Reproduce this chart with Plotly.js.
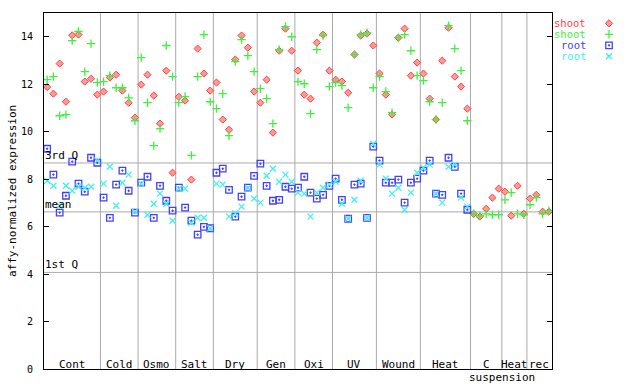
<!DOCTYPE html>
<html><head><meta charset="utf-8">
<script src="https://cdn.plot.ly/plotly-3.0.1.min.js"></script>
<style>html,body{margin:0;padding:0;background:#fff}#chart{width:640px;height:384px}</style>
</head><body><div id="chart"></div>
<script>
const groupLabels = ['Cont','Cold','Osmo','Salt','Dry','Gen','Oxi','UV','Wound','Heat','C','Heat','rec'];
const groupSizes = [9,6,6,6,7,6,6,7,7,8,5,4,4];
const subLabel = 'suspension';
const seriesNames = ['shoot','shoot','root','root'];

const shoot1 = [11.88,11.60,12.87,11.26,14.06,14.09,12.11,12.23,11.56,
  11.69,12.28,12.40,11.73,11.22,10.59,
  11.98,12.40,11.52,10.34,12.57,8.27,
  11.47,11.31,7.98,13.50,12.45,11.73,
  12.07,10.51,10.08,13.04,14.05,13.54,11.69,
  11.22,12.19,9.96,13.41,14.34,13.41,
  12.57,11.56,11.39,13.75,14.09,12.57,
  12.19,12.11,11.64,13.25,14.05,14.13,13.63,
  12.45,11.56,10.72,13.96,14.34,12.36,12.91,
  12.45,11.39,10.51,12.99,14.38,12.32,11.90,10.97,
  6.54,6.42,6.75,7.22,7.60,
  7.47,6.46,7.72,6.54,
  7.18,7.34,6.63,6.63];
const shoot2 = [12.19,12.32,10.67,10.72,13.84,14.22,12.53,13.71,12.07,
  12.11,12.36,11.85,11.85,11.42,10.46,
  13.12,11.22,9.41,10.13,13.63,12.32,
  11.22,11.48,9.00,12.32,14.09,11.26,
  10.97,11.60,9.83,12.95,13.88,13.20,12.53,
  11.81,11.39,10.34,13.46,14.43,14.00,
  12.11,12.02,10.76,13.46,14.05,11.90,
  12.07,11.94,11.01,13.25,14.09,14.17,11.85,
  12.32,11.69,10.80,13.96,14.09,13.41,12.36,
  12.15,11.26,10.51,11.22,14.47,13.50,12.57,10.46,
  6.54,6.46,6.54,6.50,6.50,
  7.13,7.43,6.54,6.50,
  6.92,7.22,6.54,6.67];
const root1 = [9.28,8.19,6.59,7.30,8.74,7.81,7.47,8.90,8.69,
  7.22,6.37,7.77,8.36,7.51,6.59,
  7.85,8.10,6.37,7.72,7.09,6.67,
  7.64,6.80,6.25,5.66,5.99,5.93,
  8.27,8.44,7.55,6.42,7.26,7.64,8.14,
  8.65,7.72,7.09,7.13,7.68,7.60,
  7.64,8.10,7.43,7.18,7.34,7.72,
  8.02,7.13,6.33,7.77,7.81,6.37,9.37,
  8.78,7.85,7.85,7.98,7.01,7.85,8.02,
  8.36,8.78,7.39,7.34,8.90,8.52,7.39,6.71];
const root2 = [7.93,7.72,6.88,7.72,7.51,7.68,7.64,7.68,8.78,
  7.81,8.52,6.88,7.85,8.19,6.63,
  7.81,6.50,6.96,7.39,6.96,6.25,
  7.60,7.60,6.16,6.37,6.37,5.93,
  7.81,7.77,6.42,6.56,6.84,7.64,7.18,
  7.01,8.14,8.44,7.89,8.19,7.89,
  7.43,7.39,6.42,7.43,7.64,7.77,
  7.89,6.96,6.33,7.13,7.93,6.37,9.49,
  8.61,8.02,7.39,7.64,6.71,7.43,8.27,
  8.48,8.61,7.39,7.01,8.52,8.61,7.22,6.84];
const refNames = ['3rd Q','mean','1st Q'];
const refValues = [8.68,6.62,4.07];
const yTicks = [0,2,4,6,8,10,12,14];

const W = 640, H = 384;
const mL = 44, mR = 20, mT = 13, mB = 15;
const pw = W - mL - mR, ph = H - mT - mB;
const plotRight = 552;
const mainDom = (plotRight - mL) / pw;
const px = v => (v - mL) / pw;
const py = v => (H - mB - v) / ph;

const FONT = 'DejaVu Sans Mono, Liberation Mono, monospace';
const colors = ['#ff4040','#40f040','#4040ff','#40f0f0'];
const N = groupSizes.reduce((a,b)=>a+b,0);
const idx = n => Array.from({length:n},(_,i)=>i);
const series = [shoot1, shoot2, root1, root2];
const markers = [
  {symbol:'diamond', size:5.5, color:'#ff9a9a', line:{color:colors[0], width:1}},
  {symbol:'cross-thin-open', size:6, color:colors[1], line:{color:colors[1], width:1.3}},
  {symbol:'square-open-dot', size:6.5, color:colors[2], line:{color:colors[2], width:1.3}},
  {symbol:'x-thin-open', size:6, color:colors[3], line:{color:colors[3], width:1.3}}
];

const traces = [];
series.forEach((s,k)=>{
  traces.push({type:'scatter', mode:'markers', x: idx(s.length), y: s,
    name: seriesNames[k], marker: markers[k], xaxis:'x', yaxis:'y', hoverinfo:'skip'});
});
// legend keys
series.forEach((s,k)=>{
  traces.push({type:'scatter', mode:'markers', x:[0], y:[k], marker: markers[k],
    xaxis:'x2', yaxis:'y2', hoverinfo:'skip'});
});

const shapes = [];
let cum = 0;
const starts = [];
groupSizes.forEach((n,g)=>{ starts.push(cum); cum += n;
  if (g < groupSizes.length-1) shapes.push({type:'line', xref:'x', yref:'paper', x0:cum-0.5, x1:cum-0.5, y0:0, y1:1, line:{color:'#aaaaaa', width:1}, layer:'below'});
});
refValues.forEach(v=>shapes.push({type:'line', xref:'x', yref:'y', x0:-0.5, x1:N-0.5, y0:v, y1:v, line:{color:'#aaaaaa', width:1}, layer:'below'}));

const annotations = [];
groupLabels.forEach((lab,g)=>{
  annotations.push({xref:'x', yref:'paper', x: starts[g] + (groupSizes[g]-1)/2, y: py(364), text: lab,
    showarrow:false, xanchor:'center', yanchor:'middle', font:{family:FONT, size:11, color:'#000'}});
});
annotations.push({xref:'x', yref:'paper', x: starts[11]-0.5, y: py(377), text: subLabel,
  showarrow:false, xanchor:'center', yanchor:'middle', font:{family:FONT, size:11, color:'#000'}});
refNames.forEach((r,k)=>{
  annotations.push({xref:'x', yref:'y', x:-0.5, y: refValues[k], text:r, showarrow:false,
    xanchor:'left', yanchor:'bottom', borderpad:0, font:{family:FONT, size:11, color:'#000'}});
});
seriesNames.forEach((nm,k)=>{
  annotations.push({xref:'paper', yref:'y2', x: px(587), y:k, text:nm, showarrow:false,
    xanchor:'right', yanchor:'middle', borderpad:0, height:10,
    font:{family:FONT, size:10.5, color:colors[k]}});
});
annotations.push({xref:'paper', yref:'paper', x: px(12), y: 0.5, text:'affy-normalized expression',
  textangle:-90, showarrow:false, xanchor:'center', yanchor:'middle', font:{family:FONT, size:11, color:'#000'}});

const legTop = 17.8, legBot = 61.8;
const layout = {
  width:W, height:H, margin:{l:mL, r:mR, t:mT, b:mB, pad:0},
  paper_bgcolor:'#fff', plot_bgcolor:'#fff', showlegend:false,
  xaxis:{domain:[0, mainDom], range:[-0.5, N-0.5], showgrid:false, zeroline:false, showticklabels:false,
    ticks:'', showline:true, mirror:true, linecolor:'#000', linewidth:1, fixedrange:true},
  yaxis:{domain:[0,1], range:[0,15], tickvals:yTicks, ticktext:yTicks.map(String), ticks:'inside', ticklen:5,
    tickcolor:'#000', showgrid:false, zeroline:false, showline:true, mirror:'ticks', linecolor:'#000', linewidth:1,
    ticklabelstandoff:8, tickfont:{family:FONT, size:10, color:'#000'}, fixedrange:true},
  xaxis2:{domain:[px(604), px(614)], range:[-1,1], visible:false, anchor:'y2', fixedrange:true},
  yaxis2:{domain:[py(legBot), py(legTop)], range:[3.5,-0.5], visible:false, anchor:'x2', fixedrange:true},
  shapes, annotations
};
Plotly.newPlot('chart', traces, layout, {displayModeBar:false, staticPlot:true});
</script></body></html>
